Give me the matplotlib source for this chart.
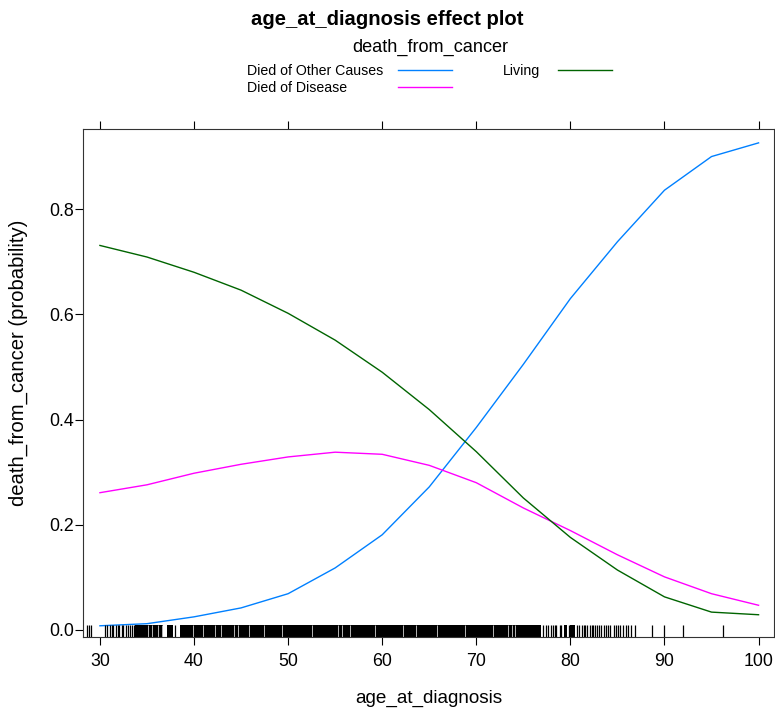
import matplotlib
matplotlib.use('Agg')
import matplotlib.pyplot as plt
from matplotlib.lines import Line2D

plt.rcParams['font.family'] = ['Liberation Sans', 'DejaVu Sans']

# effect estimates
ages = [30, 35, 40, 45, 50, 55, 60, 65, 70, 75, 80, 85, 90, 95, 100]
other_causes = [0.008, 0.012, 0.025, 0.042, 0.069, 0.118, 0.181, 0.272, 0.385, 0.505,
                0.630, 0.738, 0.836, 0.900, 0.926]
disease = [0.261, 0.276, 0.298, 0.315, 0.329, 0.338, 0.334, 0.313, 0.280, 0.232,
           0.189, 0.143, 0.101, 0.069, 0.047]
living = [0.731, 0.709, 0.680, 0.646, 0.602, 0.551, 0.490, 0.419, 0.339, 0.251,
          0.176, 0.114, 0.063, 0.034, 0.029]

series_names = ['Died of Other Causes', 'Died of Disease', 'Living']
series_colors = ['#0080ff', '#ff00ff', '#006400']

x_ticks = [30, 40, 50, 60, 70, 80, 90, 100]
y_ticks = [0.0, 0.2, 0.4, 0.6, 0.8]

# rug of observed ages: single ticks, solid bands and white gaps inside the bands
rug_ticks = [28.6, 28.85, 29.1, 30.5, 30.7, 31.05, 31.25, 31.4, 31.7, 31.9, 32.05,
             32.3, 32.5, 32.8, 33.0, 33.2, 33.4, 33.6, 38.0,
             77.1, 77.4, 77.6, 77.9, 78.1, 78.4, 78.5, 78.9, 79.05, 79.9, 80.7,
             80.9, 81.2, 81.4, 81.6, 81.8, 82.1, 82.3, 82.4, 82.6, 82.85, 83.0,
             83.3, 83.6, 83.8, 84.0, 84.2, 84.6, 84.8, 85.1, 85.3, 85.6, 85.9,
             86.1, 86.4, 86.9, 88.7, 90.0, 92.0, 96.2]
rug_bands = [(33.7, 36.75), (37.1, 37.8), (38.5, 76.9), (79.3, 79.6), (80.0, 80.5)]
rug_gaps = [35.1, 35.5, 36.2, 36.6, 39.9, 41.0, 42.2, 42.9, 44.2, 44.7, 45.8,
            47.4, 49.3, 52.5, 55.3, 55.7, 56.6, 59.2, 62.2, 63.6, 65.8, 68.8,
            71.8, 73.4, 73.8, 74.1]

fig = plt.figure(figsize=(7.75, 7.13), dpi=100)
ax = fig.add_axes([0.1077, 0.1066, 0.891, 0.7125])

for vals, name, col in zip([other_causes, disease, living], series_names, series_colors):
    ax.plot(ages, vals, color=col, lw=1.0, label=name)

# rug
rug_h = 0.024
xt = ax.get_xaxis_transform()
for a, b in rug_bands:
    ax.axvspan(a, b, ymin=0, ymax=rug_h, color='black', lw=0)
ax.vlines(rug_gaps, 0, rug_h, transform=xt, colors='white', lw=0.5)
ax.vlines(rug_ticks, 0, rug_h, transform=xt, colors='black', lw=0.9)

ax.set_xlim(28.25, 101.64)
ax.set_ylim(-0.0133, 0.9524)
ax.set_xticks(x_ticks)
ax.set_yticks(y_ticks)
ax.set_yticklabels([f'{v:.1f}' for v in y_ticks])
ax.tick_params(axis='x', top=True, labeltop=False, direction='out', length=5.8,
               width=0.8, labelsize=12.8, pad=6)
ax.tick_params(axis='y', right=False, direction='out', length=5.8, width=0.8,
               labelsize=12.8, pad=1)
for s in ax.spines.values():
    s.set_linewidth(0.8)
    s.set_color('#333333')

ax.set_xlabel('age_at_diagnosis', fontsize=13.6, labelpad=14)
ax.set_ylabel('death_from_cancer (probability)', fontsize=14.6)
ax.yaxis.set_label_coords(-0.08, 0.54)

fig.text(0.5, 0.973, 'age_at_diagnosis effect plot', ha='center', va='center',
         fontsize=14.6, fontweight='bold')
fig.text(0.555, 0.934, 'death_from_cancer', ha='center', va='center', fontsize=13.1)

# legend, drawn as in lattice: text then a line key
leg_pos = [(247, 71), (247, 88), (503, 71)]
line_pos = [(398, 452, 70), (398, 452, 87), (558, 612, 70)]
W, H = 775.0, 713.0
for name, col, (tx, ty), (x0, x1, ly) in zip(series_names, series_colors, leg_pos, line_pos):
    fig.text(tx / W, 1 - ty / H, name, ha='left', va='center', fontsize=10.2)
    fig.add_artist(Line2D([x0 / W, x1 / W], [1 - ly / H, 1 - ly / H], color=col, lw=1.0,
                          transform=fig.transFigure))

fig.savefig('out.png', dpi=100)
